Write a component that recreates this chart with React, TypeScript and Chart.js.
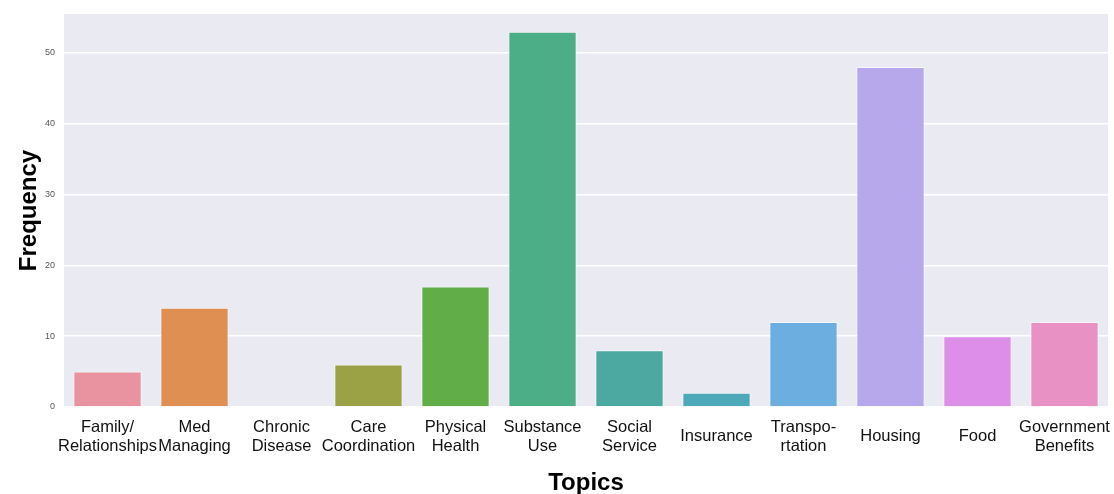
import React, { useEffect, useRef } from "react";
import { Chart, registerables } from "chart.js";

Chart.register(...registerables);

const categories: (string | string[])[] = [
  ["Family/", "Relationships"],
  ["Med", "Managing"],
  ["Chronic", "Disease"],
  ["Care", "Coordination"],
  ["Physical", "Health"],
  ["Substance", "Use"],
  ["Social", "Service"],
  "Insurance",
  ["Transpo-", "rtation"],
  "Housing",
  "Food",
  ["Government", "Benefits"],
];
const frequencies = [5, 14, 0, 6, 17, 53, 8, 2, 12, 48, 10, 12];
const barColors = [
  "#e8939f",
  "#e08f52",
  "#c39a3e",
  "#9aa245",
  "#61ae48",
  "#4bae87",
  "#4ba9a2",
  "#4da9ba",
  "#6caee0",
  "#b7a8ec",
  "#dd8ee8",
  "#e891c4",
];
const yTicks = [0, 10, 20, 30, 40, 50];

const FONT = "Liberation Sans, Arial, Helvetica, sans-serif";

const bgPlugin = {
  id: "plotBg",
  beforeDraw(chart: any) {
    const { ctx, chartArea } = chart;
    if (!chartArea) return;
    ctx.save();
    ctx.fillStyle = "#eaeaf2";
    ctx.fillRect(chartArea.left, chartArea.top, chartArea.right - chartArea.left, chartArea.bottom - chartArea.top);
    ctx.restore();
  },
};

export default function App() {
  const ref = useRef<HTMLCanvasElement>(null);
  useEffect(() => {
    if (!ref.current) return;
    const chart = new Chart(ref.current, {
      type: "bar",
      data: {
        labels: categories,
        datasets: [
          {
            data: frequencies,
            backgroundColor: barColors,
            borderColor: "rgba(255,255,255,0.6)",
            borderWidth: 1,
            categoryPercentage: 1,
            barPercentage: 0.785,
          },
        ],
      },
      options: {
        animation: false,
        responsive: false,
        maintainAspectRatio: false,
        layout: { padding: { top: 14, right: 6, left: 0, bottom: 0 } },
        plugins: { legend: { display: false }, tooltip: { enabled: false } },
        scales: {
          x: {
            afterFit(axis: any) {
              axis.height = 87;
              axis.paddingLeft = 0;
              axis.paddingRight = 0;
            },
            grid: { display: false, drawTicks: false },
            border: { display: false },
            ticks: {
              color: "#111",
              font: { family: FONT, size: 16.5 },
              maxRotation: 0,
              minRotation: 0,
              autoSkip: false,
              crossAlign: "center",
              padding: 20,
            },
            title: {
              display: true,
              text: "Topics",
              color: "#000",
              font: { family: FONT, size: 24, weight: "bold" },
              padding: { top: 0, bottom: -4 },
            },
          },
          y: {
            min: 0,
            max: 55.5,
            afterBuildTicks(axis: any) {
              axis.ticks = yTicks.map((v) => ({ value: v }));
            },
            afterFit(axis: any) {
              axis.width = 64;
              axis.paddingTop = 0;
              axis.paddingBottom = 0;
            },
            grid: { color: "#ffffff", lineWidth: 1.4, drawTicks: false },
            border: { display: false },
            ticks: {
              color: "#555",
              font: { family: FONT, size: 9 },
              padding: 9,
            },
            title: {
              display: true,
              text: "Frequency",
              color: "#000",
              font: { family: FONT, size: 24, weight: "bold" },
              padding: { top: 15, bottom: 0 },
            },
          },
        },
      },
      plugins: [bgPlugin],
    });
    return () => chart.destroy();
  }, []);
  return (
    <div style={{ position: "absolute", left: 0, top: 0, width: 1114, height: 494, background: "#fff" }}>
      <canvas ref={ref} width={1114} height={494} style={{ width: 1114, height: 494 }} />
    </div>
  );
}
